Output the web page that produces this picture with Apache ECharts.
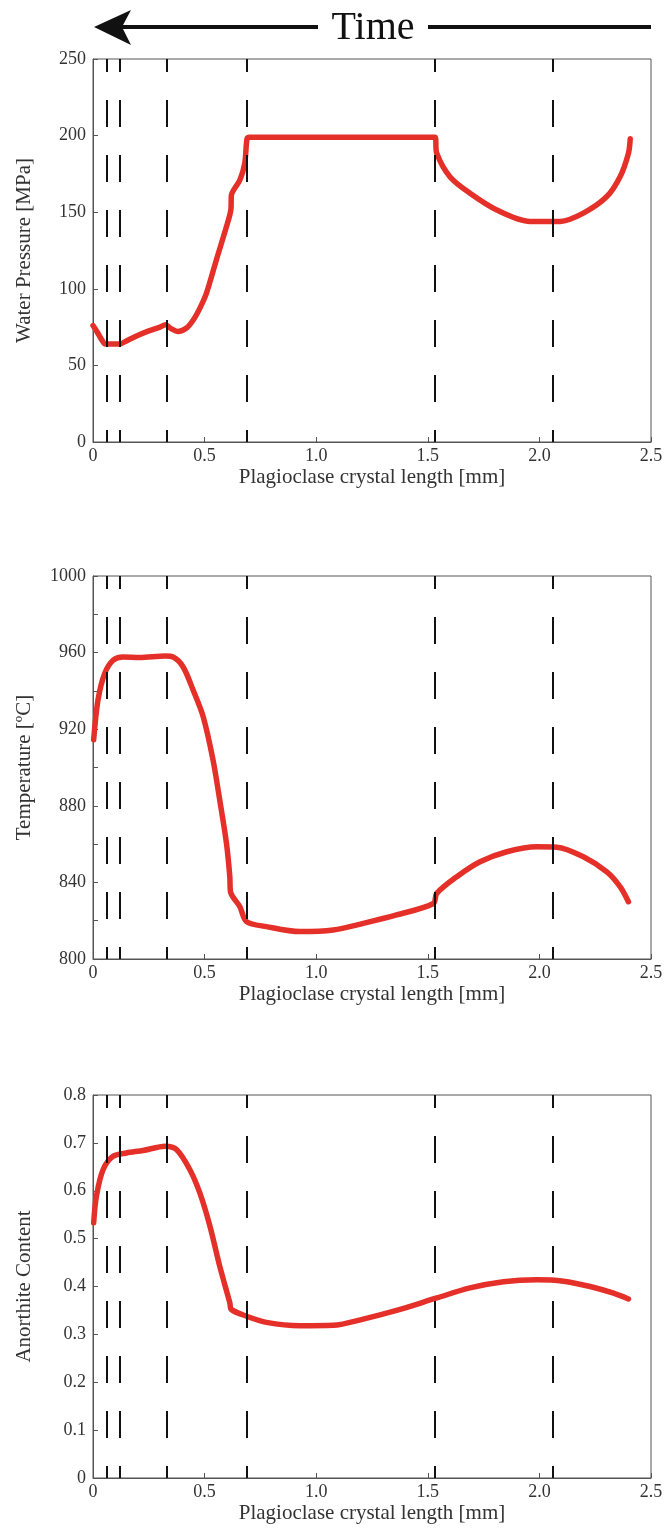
<!DOCTYPE html>
<html>
<head>
<meta charset="utf-8">
<script src="https://cdn.jsdelivr.net/npm/echarts@6/dist/echarts.min.js"></script>
<style>
  html, body { margin: 0; padding: 0; background: #fff; }
  #chart { width: 667px; height: 1530px; }
</style>
</head>
<body>
<div id="chart"></div>
<script>
// stage boundaries (dashed lines), mm
const stageX = [0.055, 0.122, 0.325, 0.69, 1.535, 2.063];

// water pressure [MPa]
const pressureX = [0, 0.02, 0.04, 0.055, 0.12, 0.15, 0.2, 0.25, 0.3, 0.325, 0.35, 0.38, 0.419, 0.45, 0.479, 0.508, 0.553, 0.598, 0.618, 0.62, 0.658, 0.68, 0.69, 0.70, 1.532, 1.54, 1.6, 1.689, 1.809, 1.958, 2.093, 2.197, 2.302, 2.362, 2.399, 2.407];
const pressureY = [76, 71.5, 66.5, 64, 64, 66, 69.5, 72.5, 75, 76.5, 74, 72.2, 74.4, 79.8, 87.4, 97, 119, 140.6, 152, 161, 171, 182, 198, 199, 199, 188.5, 173, 162.4, 151.5, 144, 144, 149.4, 160.2, 173.3, 188.5, 198];

// temperature [oC]
const tempX = [0.003, 0.022, 0.052, 0.09, 0.134, 0.209, 0.324, 0.359, 0.404, 0.449, 0.494, 0.538, 0.568, 0.598, 0.613, 0.616, 0.658, 0.688, 0.777, 0.927, 1.076, 1.211, 1.36, 1.525, 1.54, 1.63, 1.734, 1.854, 1.988, 2.078, 2.197, 2.302, 2.362, 2.399];
const tempY = [914.5, 935, 949, 956, 957.7, 957.4, 958.2, 957.7, 952.5, 940.3, 926.4, 903.8, 882.9, 860.4, 843, 835.1, 827.3, 819.5, 816.9, 814.3, 815.1, 818.6, 823, 829, 834.3, 843, 850.8, 856, 858.6, 858.4, 853.4, 845.5, 837.7, 829.9];

// anorthite content
const anX = [0.003, 0.015, 0.045, 0.09, 0.15, 0.224, 0.324, 0.374, 0.434, 0.479, 0.524, 0.568, 0.613, 0.62, 0.688, 0.777, 0.927, 1.076, 1.211, 1.36, 1.54, 1.689, 1.839, 1.988, 2.108, 2.227, 2.332, 2.399];
const anY = [0.533, 0.588, 0.644, 0.672, 0.679, 0.684, 0.693, 0.686, 0.644, 0.595, 0.526, 0.442, 0.366, 0.352, 0.338, 0.325, 0.318, 0.319, 0.332, 0.35, 0.376, 0.397, 0.41, 0.414, 0.411, 0.4, 0.386, 0.374];

const xTicks = { min: 0, max: 2.5, interval: 0.5 };
const panels = [
  { name: 'Water Pressure [MPa]', x: pressureX, y: pressureY, min: 0, max: 250, interval: 50, labelStep: 50, top: 59 },
  { name: 'Temperature [\u00BAC]', x: tempX, y: tempY, min: 800, max: 1000, interval: 20, labelStep: 40, top: 576 },
  { name: 'Anorthite Content', x: anX, y: anY, min: 0, max: 0.8, interval: 0.1, labelStep: 0.1, top: 1095 }
];

const font = '"Liberation Serif", "DejaVu Serif", serif';
const axisColor = '#555';
const textColor = '#333';
const red = '#e5302a';

const grid = [], xAxis = [], yAxis = [], series = [];
panels.forEach((p, i) => {
  grid.push({ left: 93, right: 16, top: p.top, height: 383, show: true, borderColor: axisColor, borderWidth: 1 });
  xAxis.push({
    gridIndex: i, type: 'value', min: xTicks.min, max: xTicks.max, interval: xTicks.interval,
    name: 'Plagioclase crystal length [mm]', nameLocation: 'middle', nameGap: 25,
    nameTextStyle: { fontFamily: font, fontSize: 21, color: textColor },
    axisLine: { lineStyle: { color: axisColor } },
    axisTick: { inside: true, length: 5, lineStyle: { color: axisColor } },
    axisLabel: { fontFamily: font, fontSize: 18, color: textColor, margin: 5,
      formatter: v => v === 0 ? '0' : v.toFixed(1) },
    splitLine: { show: false }
  });
  yAxis.push({
    gridIndex: i, type: 'value', min: p.min, max: p.max, interval: p.interval,
    name: p.name, nameLocation: 'middle', nameGap: 58,
    nameTextStyle: { fontFamily: font, fontSize: 21, color: textColor },
    axisLine: { show: true, lineStyle: { color: axisColor } },
    axisTick: { inside: true, length: 5, lineStyle: { color: axisColor } },
    axisLabel: { fontFamily: font, fontSize: 18, color: textColor, margin: 7,
      formatter: v => {
        const k = Math.round(v / p.labelStep * 1000) / 1000;
        if (Math.abs(k - Math.round(k)) > 1e-6) return '';
        if (v === 0) return '0';
        return p.labelStep < 1 ? v.toFixed(1) : String(v);
      } },
    splitLine: { show: false }
  });
  series.push({
    type: 'line', xAxisIndex: i, yAxisIndex: i,
    data: p.x.map((x, j) => [x, p.y[j]]),
    showSymbol: false, symbol: 'none', silent: true,
    smooth: 0.3,
    lineStyle: { color: red, width: 5.5, cap: 'round', join: 'round' },
    markLine: {
      silent: true, symbol: ['none', 'none'], label: { show: false },
      lineStyle: { color: '#111', width: 2, type: [27, 28], dashOffset: 15 },
      data: stageX.map(v => ({ xAxis: v }))
    },
    z: 3
  });
});

const chart = echarts.init(document.getElementById('chart'), null, { renderer: 'canvas' });
chart.setOption({
  animation: false,
  backgroundColor: '#fff',
  grid, xAxis, yAxis, series,
  graphic: [
    { type: 'line', shape: { x1: 122, y1: 27, x2: 318, y2: 27 }, style: { stroke: '#111', lineWidth: 4 } },
    { type: 'line', shape: { x1: 428, y1: 27, x2: 651, y2: 27 }, style: { stroke: '#111', lineWidth: 4 } },
    { type: 'polygon', shape: { points: [[94, 27], [131, 10], [122, 27], [131, 45]] }, style: { fill: '#111' } },
    { type: 'text', x: 373, y: 28, style: { text: 'Time', font: '40px ' + font, fill: '#111', textAlign: 'center', textVerticalAlign: 'middle' } }
  ]
});
</script>
</body>
</html>
